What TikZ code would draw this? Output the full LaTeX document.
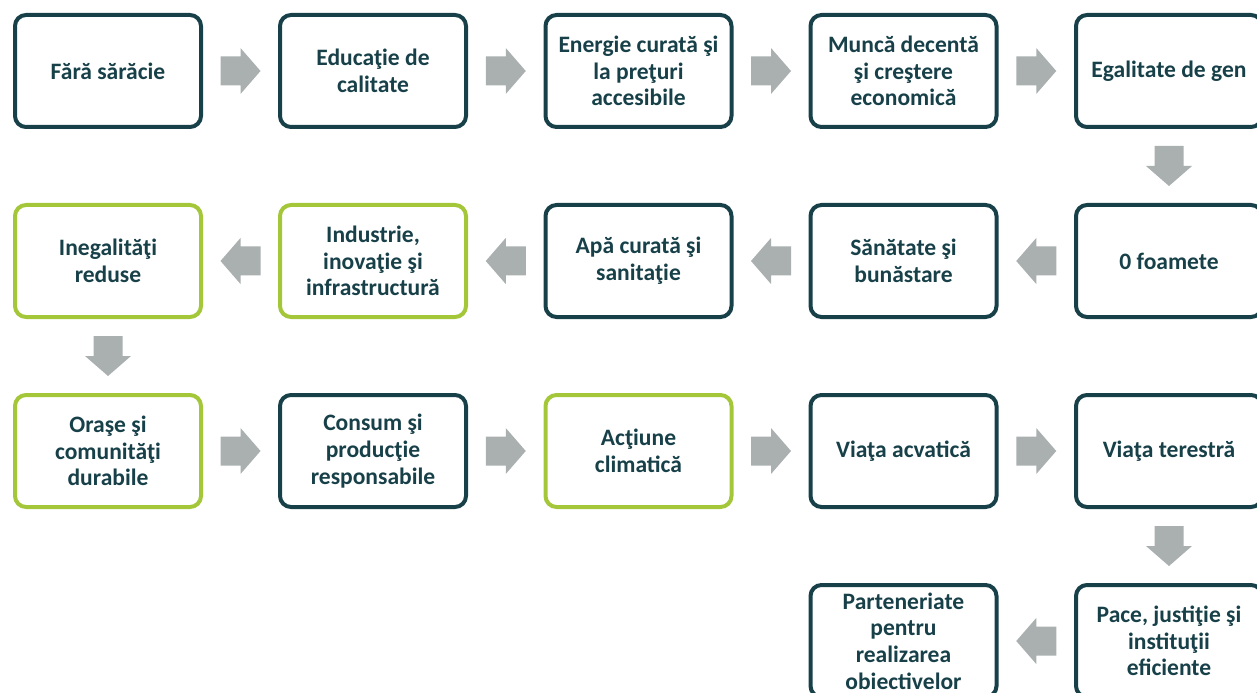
\documentclass[tikz,border=0pt]{standalone}
\usepackage{fontspec}
\setmainfont{Carlito}
\usepackage{xcolor}
\usetikzlibrary{calc}
\definecolor{darkteal}{RGB}{23,64,73}
\definecolor{sdggreen}{RGB}{164,199,58}
\definecolor{arrowgray}{RGB}{170,175,176}

\begin{document}
\begin{tikzpicture}[box/.style={rectangle, rounded corners=0.22cm, draw=darkteal, line width=0.08cm, minimum width=3.72cm, minimum height=2.24cm, align=center, text=darkteal, font=\fontsize{13.4}{15.2}\selectfont\bfseries}, greenbox/.style={box, draw=sdggreen}, blockarr/.pic={\fill[arrowgray] (-0.4,-0.29) -- (0,-0.29) -- (0,-0.46) -- (0.4,0) -- (0,0.46) -- (0,0.29) -- (-0.4,0.29) -- cycle;}]
\useasboundingbox (0,0) rectangle (25.14,-13.86);
% first row
\node[box] (1) at (2.16,-1.42) {Fără sărăcie};
\node[box] (2) at (7.46,-1.42) {Educaţie de\\calitate};
\node[box] (3) at (12.77,-1.42) {Energie curată şi\\la preţuri\\accesibile};
\node[box] (4) at (18.07,-1.42) {Muncă decentă\\şi creştere\\economică};
\node[box] (5) at (23.38,-1.42) {Egalitate de gen};
% second row
\node[box] (6) at (23.38,-5.22) {0 foamete};
\node[box] (7) at (18.07,-5.22) {Sănătate şi\\bunăstare};
\node[box] (8) at (12.77,-5.22) {Apă curată şi\\sanitaţie};
\node[greenbox] (9) at (7.46,-5.22) {Industrie,\\inovaţie şi\\infrastructură};
\node[greenbox] (10) at (2.16,-5.22) {Inegalităţi\\reduse};
% third row
\node[greenbox] (11) at (2.16,-9.02) {Oraşe şi\\comunităţi\\durabile};
\node[box] (12) at (7.46,-9.02) {Consum şi\\producţie\\responsabile};
\node[greenbox] (13) at (12.77,-9.02) {Acţiune\\climatică};
\node[box] (14) at (18.07,-9.02) {Viaţa acvatică};
\node[box] (15) at (23.38,-9.02) {Viaţa terestră};
% fourth row
\node[box] (16) at (23.38,-12.82) {Pace, justiţie şi\\instituţii\\eficiente};
\node[box] (17) at (18.07,-12.82) {Parteneriate\\pentru\\realizarea\\obiectivelor};
% arrows
\pic at ($(1)!0.5!(2)$) {blockarr};
\pic at ($(2)!0.5!(3)$) {blockarr};
\pic at ($(3)!0.5!(4)$) {blockarr};
\pic at ($(4)!0.5!(5)$) {blockarr};
\pic[rotate=-90] at ($(5)!0.5!(6)$) {blockarr};
\pic[rotate=180] at ($(6)!0.5!(7)$) {blockarr};
\pic[rotate=180] at ($(7)!0.5!(8)$) {blockarr};
\pic[rotate=180] at ($(8)!0.5!(9)$) {blockarr};
\pic[rotate=180] at ($(9)!0.5!(10)$) {blockarr};
\pic[rotate=-90] at ($(10)!0.5!(11)$) {blockarr};
\pic at ($(11)!0.5!(12)$) {blockarr};
\pic at ($(12)!0.5!(13)$) {blockarr};
\pic at ($(13)!0.5!(14)$) {blockarr};
\pic at ($(14)!0.5!(15)$) {blockarr};
\pic[rotate=-90] at ($(15)!0.5!(16)$) {blockarr};
\pic[rotate=180] at ($(16)!0.5!(17)$) {blockarr};
\end{tikzpicture}
\end{document}
